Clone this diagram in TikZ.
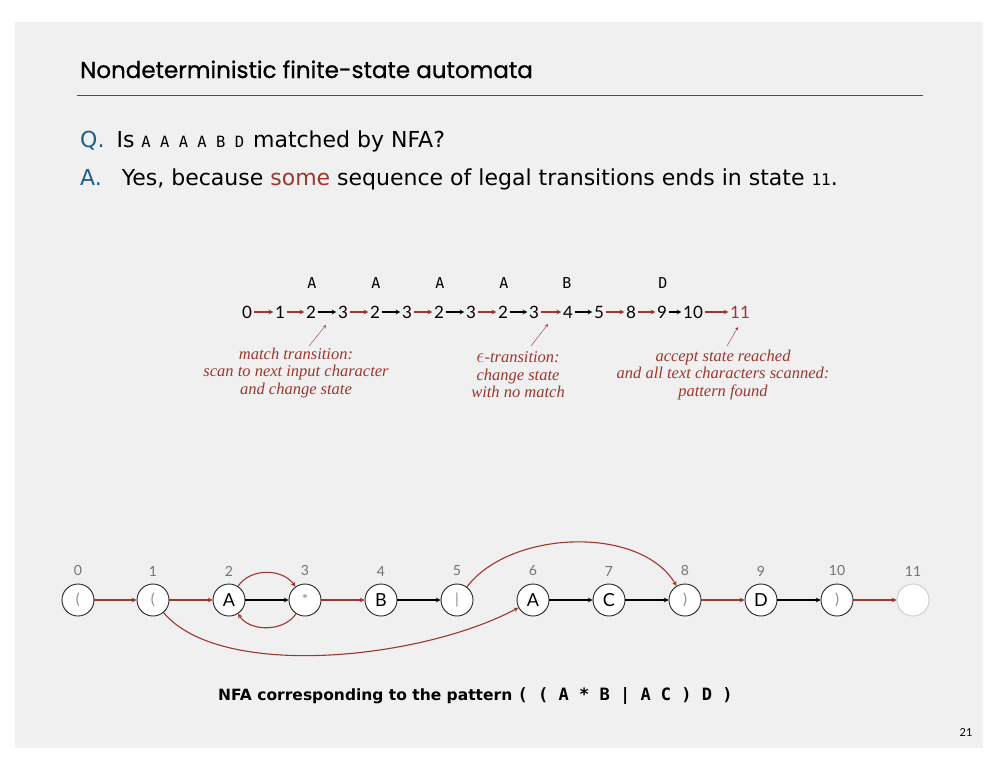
\documentclass[tikz,border=0pt]{standalone}
\usepackage{fontspec}
\setmainfont{Lato}
\newfontfamily\titlefont[FakeBold=0.7]{Poppins}
\newfontfamily\bodyfont{DejaVu Sans}
\newfontfamily\monofont{DejaVu Sans Mono}
\newfontfamily\notefont{Liberation Serif}
\usepackage{tikz}
\usetikzlibrary{arrows.meta}
\definecolor{nfared}{RGB}{155,55,45}
\definecolor{qblue}{RGB}{30,95,140}
\definecolor{slidebg}{RGB}{240,240,240}

\begin{document}
\begin{tikzpicture}[x=1pt,y=-1pt,>=stealth,
  state/.style={circle,draw=black!85,line width=0.9pt,fill=white,minimum size=32pt,inner sep=0pt,
    font=\fontsize{18}{18}\selectfont},
  meta/.style={state,text=black!45,font=\fontsize{15}{15}\selectfont},
  num/.style={text=black!55,font=\fontsize{14}{14}\selectfont,label distance=4pt},
  eps/.style={->,nfared,line width=1.1pt},
  match/.style={->,black,line width=1.1pt},
  note/.style={text=nfared,align=center,font=\notefont\itshape\fontsize{16.5}{17.5}\selectfont}]
\useasboundingbox (0,0) rectangle (999,772);
\fill[slidebg] (15,22) rectangle (983,748);
% Title and question
\node[anchor=base west,inner sep=0pt,font=\titlefont\fontsize{23}{23}\selectfont] (title) at (80,78)
  {Nondeterministic finite-state automata};
\draw[black!70,line width=0.8pt] (77,95) -- (923,95);
\node[anchor=base west,inner sep=0pt,font=\bodyfont\fontsize{22}{22}\selectfont] (q) at (80,147)
  {\textcolor{qblue}{Q.}\hspace{12pt}Is {\monofont\fontsize{15.5}{15.5}\selectfont A A A A B D}\hspace{2pt} matched by NFA?};
\node[anchor=base west,inner sep=0pt,font=\bodyfont\fontsize{22}{22}\selectfont] (a) at (80,185)
  {\textcolor{qblue}{A.}\hspace{20pt}Yes, because \textcolor{nfared}{some} sequence of legal transitions ends in state {\monofont\fontsize{16}{16}\selectfont 11}.};
% Input characters
\foreach \x/\c in {312/A,376/A,440/A,504/A,567/B,663/D}
  \node[font=\monofont\fontsize{15}{15}\selectfont] (c\x) at (\x,283) {\c};
% Sequence of states
\foreach \i/\x/\t in {0/247/0,1/280/1,2/311/2,3/343/3,4/375/2,5/407/3,6/439/2,7/471/3,
    8/503/2,9/534/3,10/568/4,11/599/5,12/631/8,13/662/9,14/693/10}
  \node[inner sep=1.5pt,font=\fontsize{17}{17}\selectfont] (s\i) at (\x,312) {\t};
\node[inner sep=1.5pt,text=nfared,font=\fontsize{17}{17}\selectfont] (s15) at (740,312) {11};
\foreach \a/\b/\c in {0/1/nfared,1/2/nfared,2/3/black,3/4/nfared,4/5/black,5/6/nfared,
    6/7/black,7/8/nfared,8/9/black,9/10/nfared,10/11/black,11/12/nfared,12/13/nfared,
    13/14/black,14/15/nfared}
  \draw[->,\c,line width=1.1pt] (s\a) -- (s\b);
% Notes
\node[note] (n1) at (296,373) {match transition:\\scan to next input character\\and change state};
\node[note] (n2) at (518,375) {{\fontsize{20}{17}\selectfont$\epsilon$}-transition:\\change state\\with no match};
\node[note] (n3) at (723,375) {accept state reached\\and all text characters scanned:\\pattern found};
\coordinate (t1) at (326,325);
\coordinate (t2) at (548,324);
\coordinate (t3) at (738,327);
\draw[->,nfared] (309,346) -- (t1);
\draw[->,nfared] (531,346) -- (t2);
\draw[->,nfared] (727,346) -- (t3);
% NFA
\node[meta,label={[num]above:0}] (q0) at (78,600) {(};
\node[meta,label={[num]above:1}] (q1) at (153,600) {(};
\node[state,label={[num]above:2}] (q2) at (229,600) {A};
\node[meta,label={[num]above:3}] (q3) at (305,600) {*};
\node[state,label={[num]above:4}] (q4) at (381,600) {B};
\node[meta,label={[num]above:5}] (q5) at (457,600) {|};
\node[state,label={[num]above:6}] (q6) at (533,600) {A};
\node[state,label={[num]above:7}] (q7) at (609,600) {C};
\node[meta,label={[num]above:8}] (q8) at (685,600) {)};
\node[state,label={[num]above:9}] (q9) at (761,600) {D};
\node[meta,label={[num]above:10}] (q10) at (837,600) {)};
\node[state,draw=black!20,label={[num]above:11}] (q11) at (913,600) {};
\draw[eps] (q0) -- (q1);
\draw[eps] (q1) -- (q2);
\draw[match] (q2) -- (q3);
\draw[eps] (q3) -- (q4);
\draw[match] (q4) -- (q5);
\draw[match] (q6) -- (q7);
\draw[match] (q7) -- (q8);
\draw[eps] (q8) -- (q9);
\draw[match] (q9) -- (q10);
\draw[eps] (q10) -- (q11);
\draw[eps] (q2) .. controls (250,568) and (282,568) .. (q3);
\draw[eps] (q3) .. controls (284,632) and (250,632) .. (q2);
\draw[eps] (q1) .. controls (220,680) and (420,660) .. (q6);
\draw[eps] (q5) .. controls (510,530) and (640,525) .. (q8);
\node[anchor=base west,inner sep=0pt,font=\bodyfont\bfseries\fontsize{15.5}{15.5}\selectfont] (cap) at (218,700)
  {NFA corresponding to the pattern {\monofont\bfseries\fontsize{17}{17}\selectfont ( ( A * B | A C ) D )}};
\node[font=\fontsize{11}{11}\selectfont] (page) at (966,733) {21};
\end{tikzpicture}
\end{document}
